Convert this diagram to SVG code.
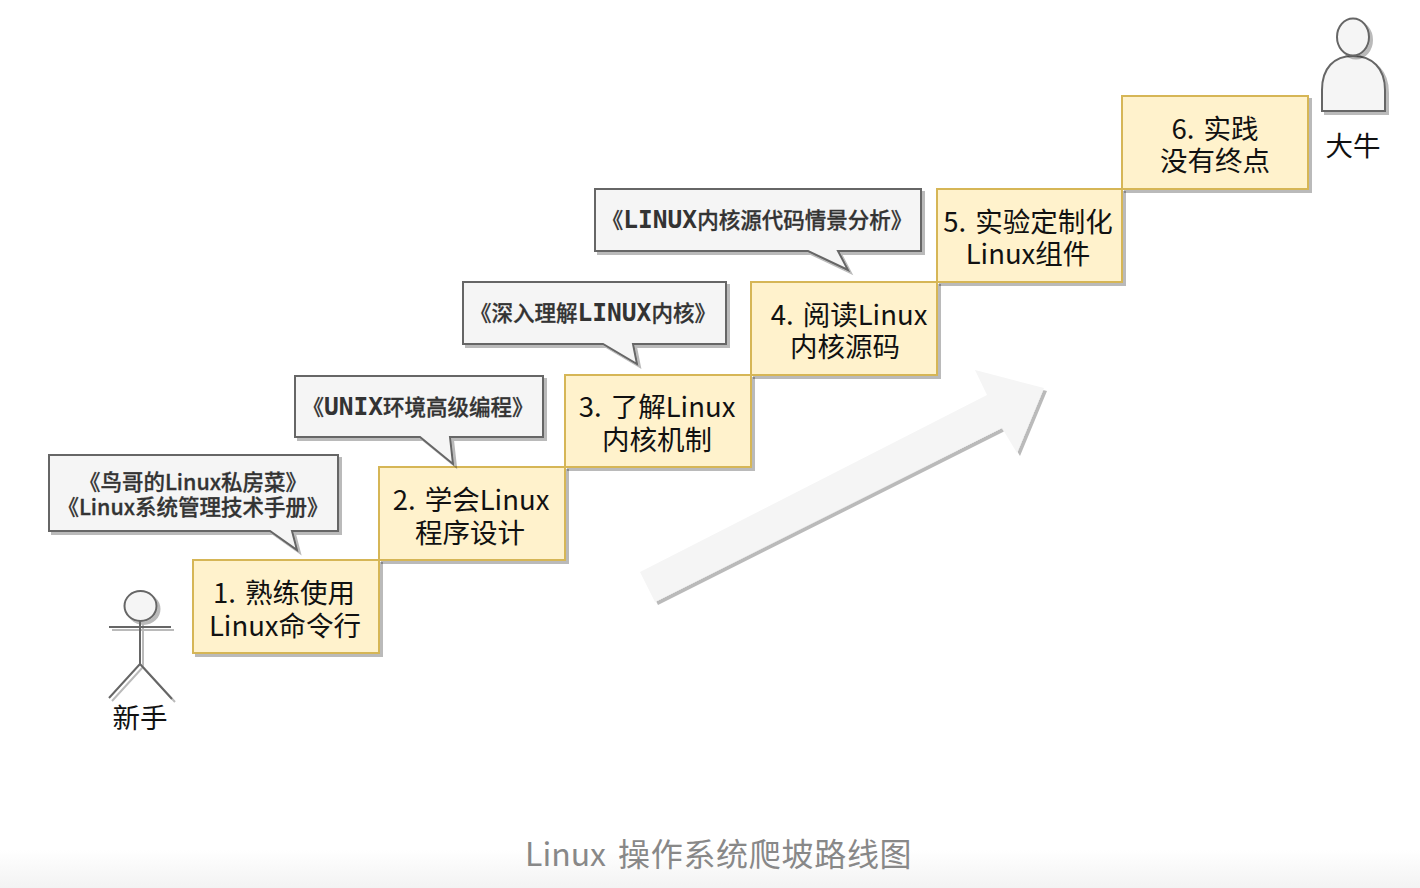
<svg xmlns="http://www.w3.org/2000/svg" width="1420" height="888" viewBox="0 0 1420 888">
<style>
text{font-family:"Noto Sans CJK SC","Noto Sans",sans-serif;text-anchor:middle}
.step rect{fill:#fff2cc;stroke:#d6b656;stroke-width:2}
.step text{font-size:27.5px;fill:#111;word-spacing:3px}
.note path{fill:#f5f5f5;stroke:#666;stroke-width:2}
.note text{font-size:21.5px;font-weight:500;fill:#333;stroke:#333;stroke-width:0.3px}
.note .caps{font-family:"DejaVu Sans Mono",monospace;font-size:24.500px;font-weight:700;stroke:none}
.actor .s{fill:#f5f5f5;stroke:#666;stroke-width:2}
.actor text{font-size:27.5px;fill:#111}
.shadow{filter:url(#sh)}
#caption{font-size:32px;fill:#888;text-anchor:start}
#caption .zh{letter-spacing:0.7px}
</style>
<defs>
<filter id="sh" x="-20%" y="-20%" width="140%" height="140%"><feDropShadow dx="3" dy="3" stdDeviation="0.4" flood-color="#000" flood-opacity="0.27"/></filter>
<linearGradient id="fade" x1="0" y1="0" x2="0" y2="1"><stop offset="0" stop-color="#fff"/><stop offset="1" stop-color="#f3f3f3"/></linearGradient>
</defs>
<rect width="1420" height="888" fill="#fff"/>
<rect id="bottom-fade" y="850" width="1420" height="38" fill="url(#fade)"/>
<g id="connectors">
<path class="shadow" fill="#f5f5f5" d="M640 572L987 395L975 370L1044 388L1017 453L1002 428L655 602Z"/>
</g>
<g id="actor-novice" class="actor">
<g class="shadow" fill="none" stroke="#666" stroke-width="2">
<ellipse class="s" cx="140.500" cy="606" rx="16" ry="15"/>
<path d="M140 621V664M109 627H171M140 664L109 698M140 664L172 699"/>
</g>
<text x="140" y="728">新手</text>
</g>
<g id="step-1" class="step"><rect class="shadow" x="193" y="560" width="186" height="93"/><text x="284" y="603">1. 熟练使用</text><text x="285" y="636">Linux命令行</text></g>
<g id="step-2" class="step"><rect class="shadow" x="379" y="467" width="186" height="93"/><text x="471" y="510">2. 学会Linux</text><text x="470" y="543">程序设计</text></g>
<g id="step-3" class="step"><rect class="shadow" x="565" y="375" width="186" height="92"/><text x="657" y="417">3. 了解Linux</text><text x="657" y="450">内核机制</text></g>
<g id="step-4" class="step"><rect class="shadow" x="751" y="282" width="186" height="93"/><text x="849" y="325">4. 阅读Linux</text><text x="845" y="357">内核源码</text></g>
<g id="step-5" class="step"><rect class="shadow" x="937" y="189" width="185" height="93"/><text x="1028" y="232">5. 实验定制化</text><text x="1028" y="264">Linux组件</text></g>
<g id="step-6" class="step"><rect class="shadow" x="1122" y="96" width="186" height="93"/><text x="1215" y="139">6. 实践</text><text x="1215" y="171">没有终点</text></g>
<g id="note-1" class="note"><path class="shadow" d="M49 455H338V531H292L297 550L270 531H49Z"/><text x="193" y="490">《鸟哥的Linux私房菜》</text><text x="193" y="515">《Linux系统管理技术手册》</text></g>
<g id="note-2" class="note"><path class="shadow" d="M295 376H543V437H450L453 464L420 437H295Z"/><text x="418" y="415">《<tspan class="caps">UNIX</tspan>环境高级编程》</text></g>
<g id="note-3" class="note"><path class="shadow" d="M463 282H726V344H633L637 364L603 344H463Z"/><text x="593" y="321">《深入理解<tspan class="caps">LINUX</tspan>内核》</text></g>
<g id="note-4" class="note"><path class="shadow" d="M595 189H921V251H838L848 270L808 251H595Z"/><text x="757" y="228">《<tspan class="caps">LINUX</tspan>内核源代码情景分析》</text></g>
<g id="actor-expert" class="actor">
<path class="s shadow" d="M1322 111V90C1322 68 1334 56 1353 56C1372 56 1385 68 1385 90V111Z"/>
<ellipse class="s shadow" cx="1353" cy="37" rx="16" ry="18.500"/>
<text x="1353" y="156">大牛</text>
</g>
<text id="caption" y="866"><tspan x="525">Linux</tspan> <tspan class="zh" x="618">操作系统爬坡路线图</tspan></text>
</svg>
